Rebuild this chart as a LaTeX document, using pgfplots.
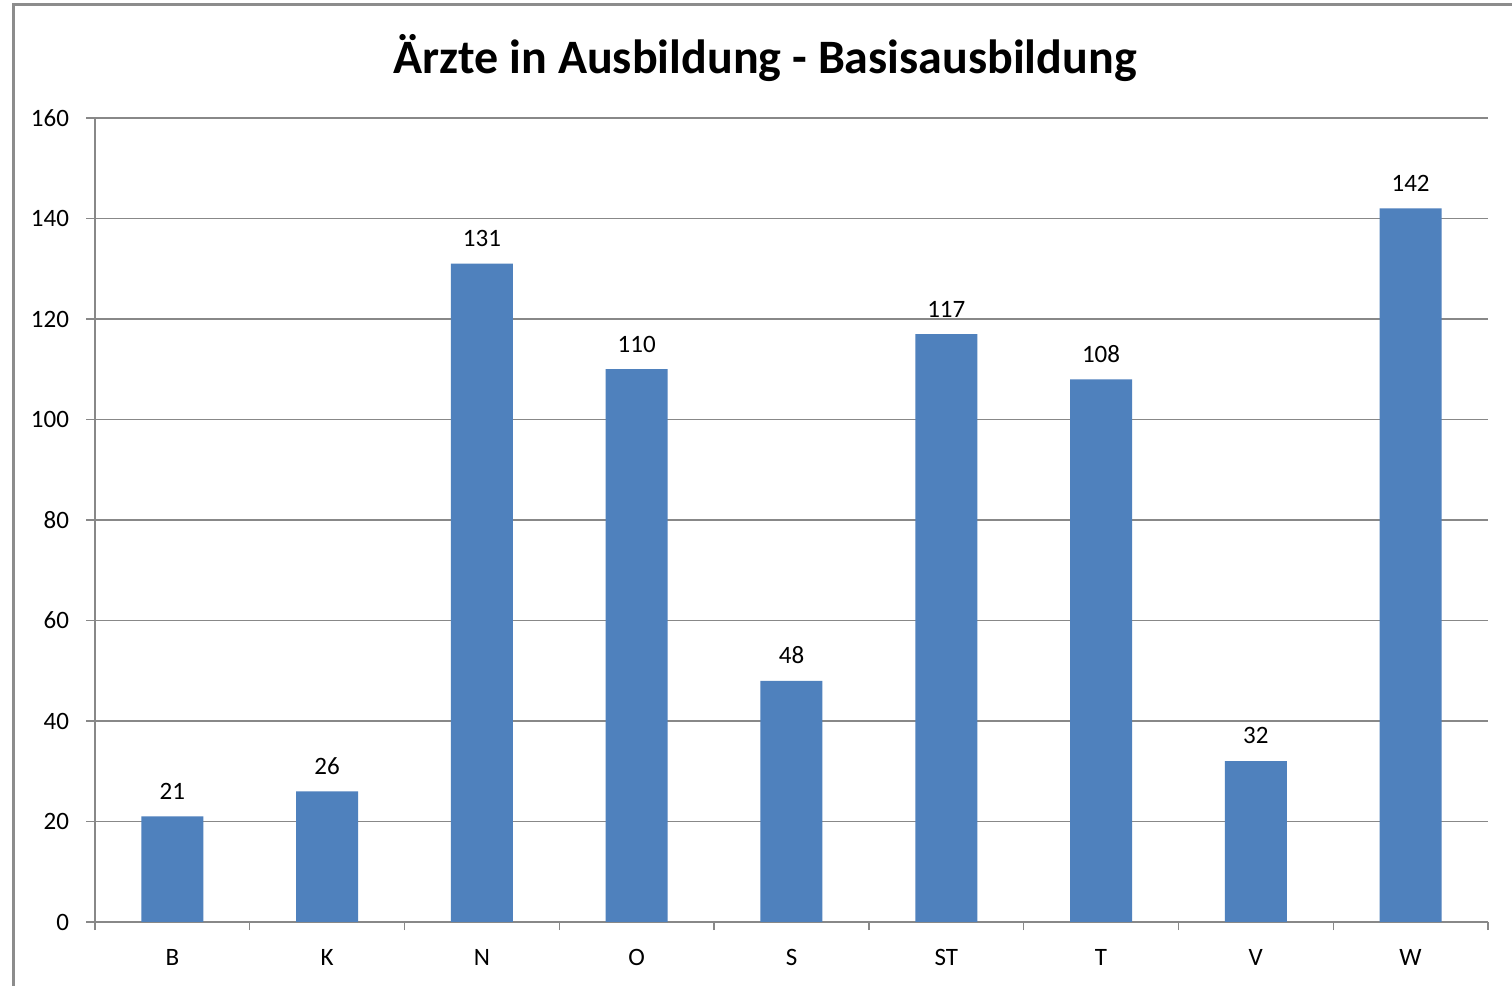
\documentclass[border=0pt]{standalone}
\usepackage{pgfplots}
\pgfplotsset{compat=1.18}
\usepackage{fontspec}
\setmainfont{Carlito}
\definecolor{barblue}{HTML}{4F81BD}
\definecolor{gridgray}{HTML}{888888}
\definecolor{framegray}{HTML}{8C8C8C}
\begin{document}
\begin{tikzpicture}[x=1pt,y=1pt]
\useasboundingbox (0,0) rectangle (756,493);
\fill[white] (0,0) rectangle (756,493);
\draw[framegray, line width=1.5pt] (6.5,0) -- (6.5,490.5) -- (757,490.5);
\node[font=\bfseries\fontsize{24}{28}\selectfont, anchor=base] at (382.5,456) {Ärzte in Ausbildung - Basisausbildung};
\begin{axis}[
  at={(47.5pt,32pt)}, anchor=south west,
  scale only axis, width=696.5pt, height=402pt,
  /pgf/number format/assume math mode=true,
  ymin=0, ymax=160, ytick={0,20,...,160},
  xmin=-0.5, xmax=8.5,
  xtick={0,...,8}, xticklabels={B,K,N,O,S,ST,T,V,W},
  minor xtick={-0.5,0.5,...,8.5},
  axis lines=left,
  axis line style={-, draw=gridgray, line width=0.7pt},
  tick align=outside,
  major tick length=4.5pt,
  minor tick length=4pt,
  major x tick style={draw=none},
  minor x tick style={draw=gridgray, line width=0.7pt},
  major y tick style={draw=gridgray, line width=0.7pt},
  ymajorgrids,
  grid style={draw=gridgray, line width=0.6pt},
  tick label style={font=\fontsize{12.5}{15}\selectfont, text=black},
  yticklabel style={xshift=-5pt},
  xticklabel style={yshift=-5.5pt},
  ybar, bar width=31pt,
  nodes near coords,
  every node near coord/.append style={font=\fontsize{12.5}{15}\selectfont, text=black, yshift=5pt},
  clip=false,
]
\addplot[fill=barblue, draw=none] coordinates {
(0,21) (1,26) (2,131) (3,110) (4,48) (5,117) (6,108) (7,32) (8,142)
};
\end{axis}
\end{tikzpicture}
\end{document}
